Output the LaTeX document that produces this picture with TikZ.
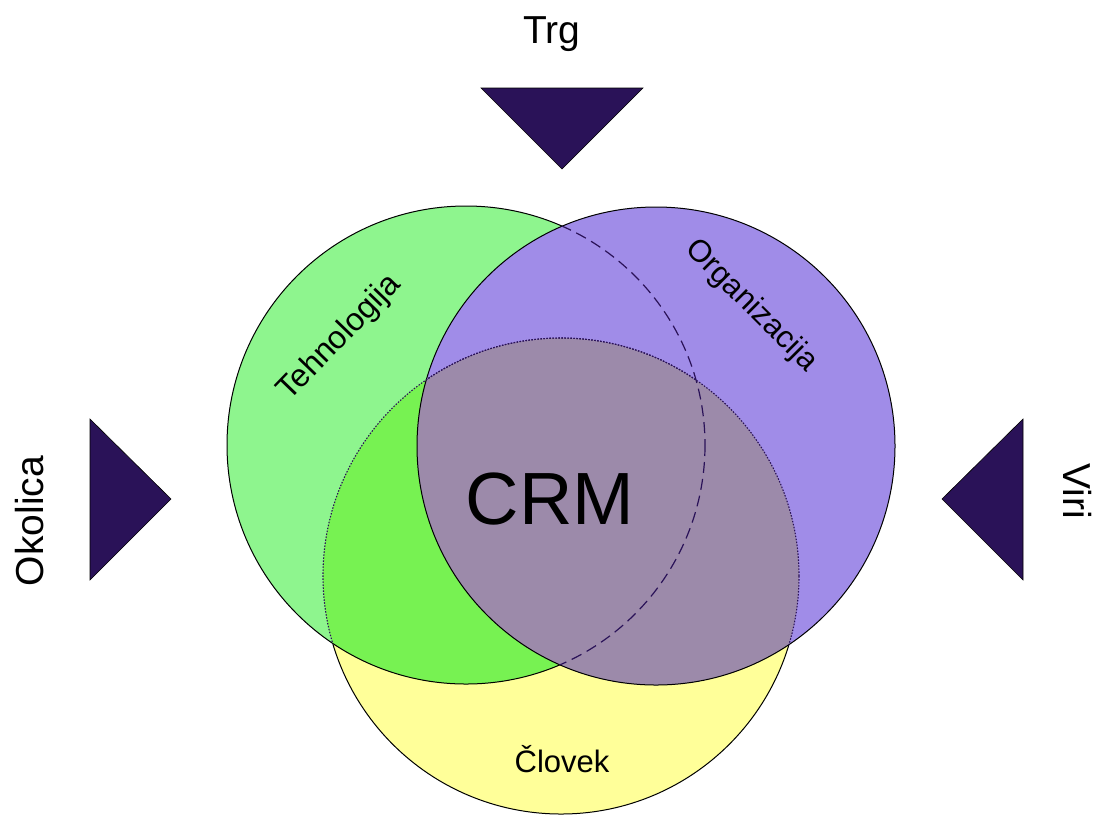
\documentclass[tikz,border=0pt]{standalone}
\usepackage{fontspec}
\setmainfont{Liberation Sans}
\definecolor{yel}{HTML}{FFFF99}
\definecolor{grn}{HTML}{8EF58E}
\definecolor{grnyel}{HTML}{77F252}
\definecolor{pur}{HTML}{A08CE8}
\definecolor{puryel}{HTML}{9C8AAA}
\definecolor{navy}{HTML}{2A1258}
\tikzset{
  marker/.style={fill=navy, draw=black, line width=0.6pt},
  rim/.style={draw=black, line width=1pt},
  hiddenrim/.style={draw=navy, line width=1.2pt, dash pattern=on 11pt off 6pt},
  dottedrim/.style={draw=navy, line width=1.1pt, dash pattern=on 1.5pt off 1.5pt},
  lbl/.style={inner sep=0pt, font=\fontsize{32}{36}\selectfont},
  outer/.style={inner sep=0pt, font=\fontsize{39}{44}\selectfont},
}
\begin{document}
\begin{tikzpicture}[x=1pt,y=-1pt]
\useasboundingbox (0,0) rectangle (1097,815);
\coordinate (G) at (466,445);
\coordinate (P) at (656,446);
\coordinate (Y) at (561,576);
\def\R{239}
% yellow
\fill[yel] (Y) circle (238);
\draw[rim] (Y) circle (238);
% green
\fill[grn] (G) circle (\R);
\begin{scope}
  \clip (Y) circle (238);
  \fill[grnyel] (G) circle (\R);
\end{scope}
\draw[rim] (G) circle (\R);
% purple
\fill[pur] (P) circle (\R);
\begin{scope}
  \clip (Y) circle (238);
  \fill[puryel] (P) circle (\R);
\end{scope}
\draw[rim] (P) circle (\R);
% hidden outlines
\begin{scope}
  \clip (P) circle (\R);
  \draw[hiddenrim] (G) circle (\R);
\end{scope}
\begin{scope}
  \clip (G) circle (\R);
  \draw[dottedrim] (Y) circle (238);
\end{scope}
\begin{scope}
  \clip (P) circle (\R);
  \draw[dottedrim] (Y) circle (238);
\end{scope}
% markers
\filldraw[marker] (481,88) -- (643,88) -- (562,169) -- cycle;
\filldraw[marker] (90,419) -- (90,580) -- (171,499) -- cycle;
\filldraw[marker] (1023,419) -- (1023,580) -- (942,499) -- cycle;
% labels
\node[outer, anchor=base] (trg) at (552,43) {Trg};
\node[outer, anchor=base, rotate=90] (okolica) at (43,521) {Okolica};
\node[outer, anchor=base, rotate=-90] (viri) at (1063,491) {Viri};
\node[inner sep=0pt, anchor=base, font=\fontsize{74}{80}\selectfont] (crm) at (550,524) {CRM};
\node[lbl, anchor=base, font=\fontsize{31}{36}\selectfont] (clovek) at (562,772) {Človek};
\node[lbl, rotate=46] (teh) at (340,338) {Tehnologija};
\node[lbl, rotate=-45, font=\fontsize{31}{35}\selectfont] (org) at (751,306) {Organizacija};
\end{tikzpicture}
\end{document}
